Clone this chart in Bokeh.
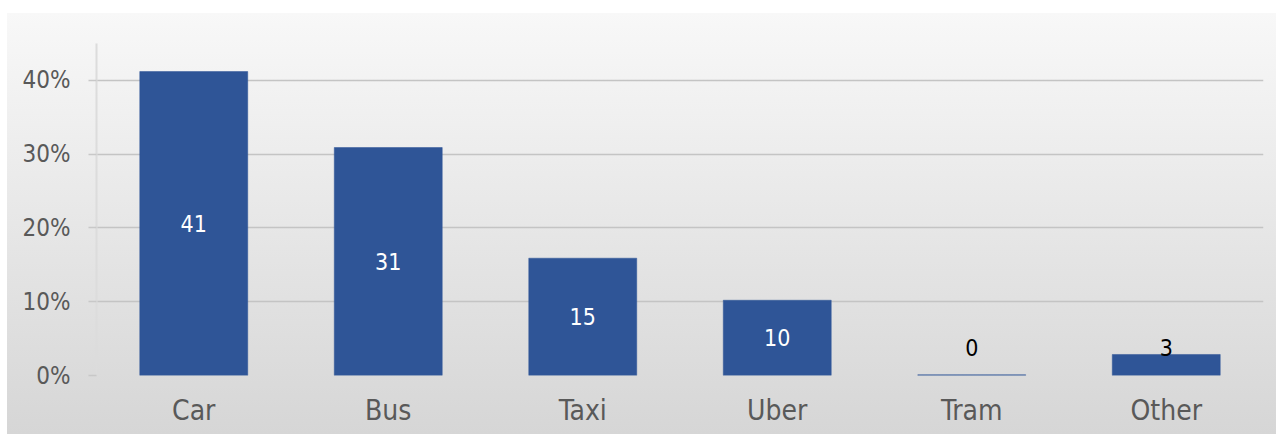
from bokeh.plotting import figure
from bokeh.models import ColumnDataSource, Range1d, FixedTicker, PrintfTickFormatter
from bokeh.core.properties import value
from bokeh.embed import file_html
from bokeh.resources import INLINE

categories = ["Car", "Bus", "Taxi", "Uber", "Tram", "Other"]
shares = [41.2, 30.9, 15.9, 10.2, 0.1, 2.85]
labels = ["41", "31", "15", "10", "0", "3"]
y_ticks = [0, 10, 20, 30, 40]

FONT = "'Liberation Sans Narrow', 'DejaVu Sans Condensed', 'DejaVu Sans'"

label_y = [v / 2 if v >= 5 else 3.8 for v in shares]
label_color = ["white" if v >= 5 else "black" for v in shares]

src = ColumnDataSource(dict(cat=categories, v=shares, lab=labels, ly=label_y, lc=label_color))

p = figure(x_range=categories, y_range=Range1d(0, 45), width=1276, height=434,
           output_backend="svg", toolbar_location=None,
           min_border_left=96, min_border_right=13, min_border_top=43, min_border_bottom=59)

p.border_fill_color = None
p.background_fill_color = None
p.outline_line_color = None
p.styles = {"background": "linear-gradient(to right, #ffffff 0px, #ffffff 7px, transparent 7px), "
                          "linear-gradient(to bottom, #ffffff 0px, #ffffff 13px, #f8f8f8 13px, #d6d6d6 100%)"}

p.vbar(x="cat", top="v", bottom=0, width=0.555, source=src,
       fill_color="#2f5597", line_color="#2f5597", line_width=0.5)

p.text(x="cat", y="ly", text="lab", source=src, text_color="lc",
       text_align="center", text_baseline="middle",
       text_font=value(FONT), text_font_size="23px")

# y axis
p.yaxis.ticker = FixedTicker(ticks=y_ticks)
p.yaxis.formatter = PrintfTickFormatter(format="%d%%")
p.yaxis.axis_line_color = "#dcdcdc"
p.yaxis.axis_line_width = 2
p.yaxis.major_tick_line_color = "#c8c8c8"
p.yaxis.major_tick_line_width = 1.5
p.yaxis.major_tick_out = 8
p.yaxis.major_tick_in = 0
p.yaxis.minor_tick_line_color = None
p.yaxis.major_label_text_font = FONT
p.yaxis.major_label_text_font_size = "24px"
p.yaxis.major_label_text_color = "#595959"
p.yaxis.major_label_standoff = 18

# x axis
p.xaxis.axis_line_color = None
p.xaxis.major_tick_line_color = None
p.xaxis.minor_tick_line_color = None
p.xaxis.major_label_text_font = FONT
p.xaxis.major_label_text_font_size = "28px"
p.xaxis.major_label_text_color = "#595959"
p.xaxis.major_label_standoff = 12

p.xgrid.grid_line_color = None
p.ygrid.ticker = FixedTicker(ticks=[t for t in y_ticks if t > 0])
p.ygrid.grid_line_color = "#c4c4c4"
p.ygrid.grid_line_width = 1.5

open("out.html", "w").write(file_html(p, INLINE))
